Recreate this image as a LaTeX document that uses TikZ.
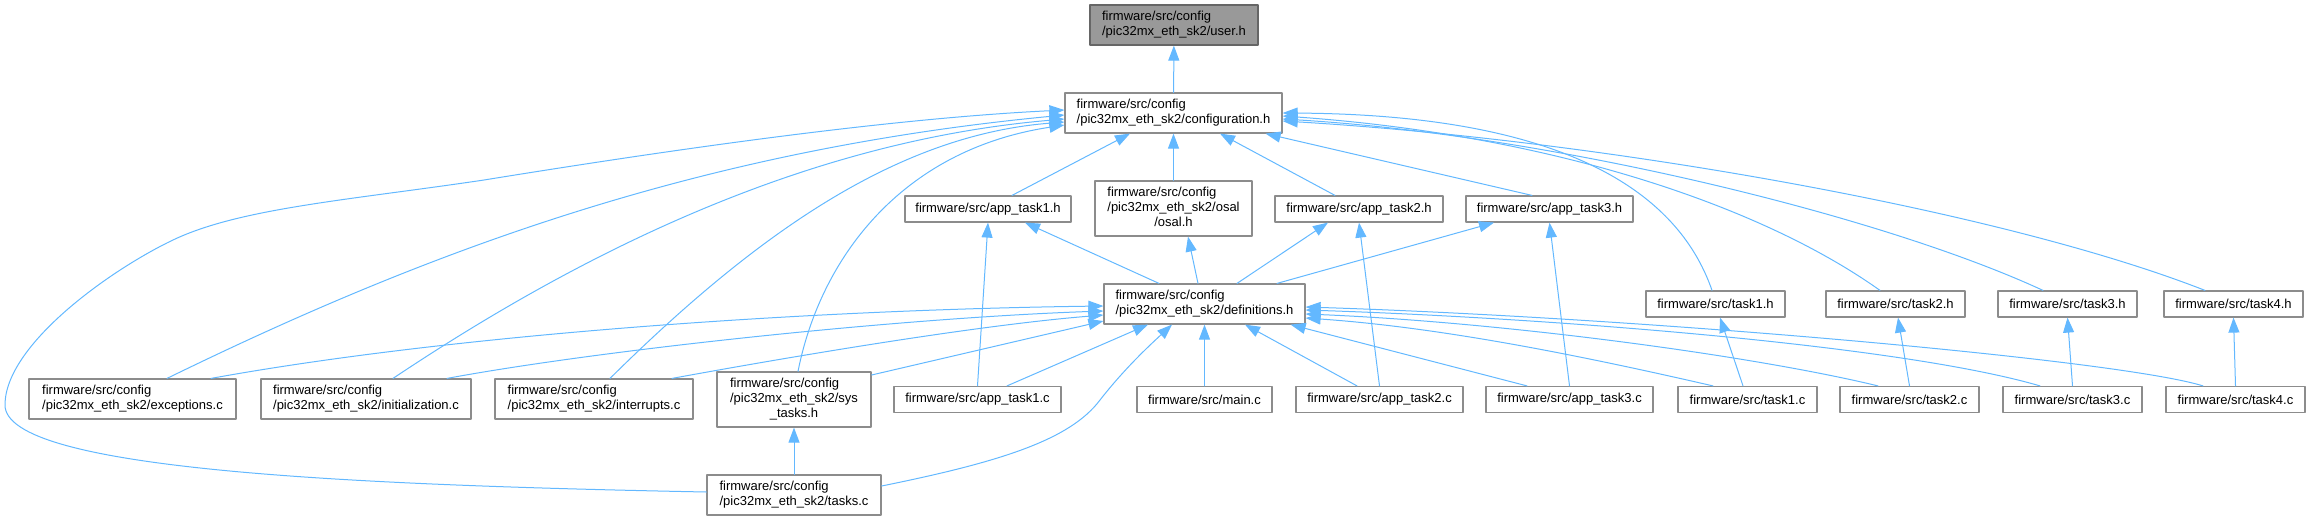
\documentclass[tikz,border=0pt]{standalone}
\usepackage{fontspec}
\setmainfont{Liberation Sans}
\usetikzlibrary{arrows.meta}
\definecolor{linkblue}{HTML}{63B8FF}
\definecolor{boxgray}{HTML}{8C8C8C}
\definecolor{rootgray}{HTML}{999999}
\definecolor{rootedge}{HTML}{666666}
\tikzset{
  file/.style={draw=boxgray,line width=1.2pt,fill=white,inner sep=0pt,align=left,font=\fontsize{13}{15}\selectfont},
  rootfile/.style={file,fill=rootgray,draw=rootedge},
  incl/.style={draw=linkblue,line width=1pt,-{Triangle[length=15pt,width=11pt]}},
}
\begin{document}
\begin{tikzpicture}[x=1pt,y=-1pt,line cap=round,line join=round]
  \useasboundingbox (0,0) rectangle (2310,520);
  \node[rootfile,minimum width=168,minimum height=40] (user) at (1174,25) {firmware/src/config\\/pic32mx\_eth\_sk2/user.h};
  \node[file,minimum width=217,minimum height=40] (config) at (1173.5,113) {firmware/src/config\\/pic32mx\_eth\_sk2/configuration.h};
  \node[file,minimum width=166,minimum height=26] (apph1) at (988,209) {firmware/src/app\_task1.h};
  \node[file,minimum width=157,minimum height=55] (osal) at (1173.5,208.5) {\begin{tabular}{@{}l@{}}firmware/src/config\\/pic32mx\_eth\_sk2/osal\\\multicolumn{1}{@{}c@{}}{/osal.h}\end{tabular}};
  \node[file,minimum width=168,minimum height=26] (apph2) at (1359,209) {firmware/src/app\_task2.h};
  \node[file,minimum width=167,minimum height=26] (apph3) at (1549.5,209) {firmware/src/app\_task3.h};
  \node[file,minimum width=201,minimum height=40] (defs) at (1204.5,304) {firmware/src/config\\/pic32mx\_eth\_sk2/definitions.h};
  \node[file,minimum width=139,minimum height=26] (t1h) at (1715.5,304) {firmware/src/task1.h};
  \node[file,minimum width=139,minimum height=26] (t2h) at (1895.5,304) {firmware/src/task2.h};
  \node[file,minimum width=139,minimum height=26] (t3h) at (2067.5,304) {firmware/src/task3.h};
  \node[file,minimum width=139,minimum height=26] (t4h) at (2233.5,304) {firmware/src/task4.h};
  \node[file,minimum width=207,minimum height=40] (exc) at (132.5,399) {firmware/src/config\\/pic32mx\_eth\_sk2/exceptions.c};
  \node[file,minimum width=210,minimum height=40] (init) at (366,399) {firmware/src/config\\/pic32mx\_eth\_sk2/initialization.c};
  \node[file,minimum width=198,minimum height=40] (intr) at (594,399) {firmware/src/config\\/pic32mx\_eth\_sk2/interrupts.c};
  \node[file,minimum width=154,minimum height=55] (systh) at (794,399.5) {\begin{tabular}{@{}l@{}}firmware/src/config\\/pic32mx\_eth\_sk2/sys\\\multicolumn{1}{@{}c@{}}{\_tasks.h}\end{tabular}};
  \node[file,minimum width=167,minimum height=26] (appc1) at (977.5,399.5) {firmware/src/app\_task1.c};
  \node[file,minimum width=135,minimum height=26] (mainc) at (1204.5,399.5) {firmware/src/main.c};
  \node[file,minimum width=167,minimum height=26] (appc2) at (1379.5,399.5) {firmware/src/app\_task2.c};
  \node[file,minimum width=167,minimum height=26] (appc3) at (1569.5,399.5) {firmware/src/app\_task3.c};
  \node[file,minimum width=139,minimum height=26] (t1c) at (1747.5,399.5) {firmware/src/task1.c};
  \node[file,minimum width=139,minimum height=26] (t2c) at (1909.5,399.5) {firmware/src/task2.c};
  \node[file,minimum width=139,minimum height=26] (t3c) at (2072.5,399.5) {firmware/src/task3.c};
  \node[file,minimum width=139,minimum height=26] (t4c) at (2235.5,399.5) {firmware/src/task4.c};
  \node[file,minimum width=174,minimum height=40] (tasksc) at (794,495) {firmware/src/config\\/pic32mx\_eth\_sk2/tasks.c};
  \draw[incl] (config) -- (user);
  \draw[incl] ([xshift=24]apph1.north) -- ([xshift=-43.5]config.south);
  \draw[incl] (osal) -- (config);
  \draw[incl] ([xshift=-24]apph2.north) -- ([xshift=46.5]config.south);
  \draw[incl] ([xshift=-17.5]apph3.north) -- ([xshift=-17]config.south east);
  \draw[incl] ([yshift=3]tasksc.west) .. controls (350,485) and (5,470) .. (5,405)
    .. controls (5,345) and (110,270) .. (173,240)
    .. controls (240,208) and (350,200) .. (484,180)
    .. controls (700,145) and (900,118) .. ([yshift=3]config.west);
  \draw[incl] ([xshift=34.5]exc.north) .. controls (430,250) and (700,150) .. ([yshift=-2]config.west);
  \draw[incl] ([xshift=27]init.north) .. controls (600,240) and (820,140) .. ([yshift=-6]config.west);
  \draw[incl] ([xshift=16]intr.north) .. controls (760,230) and (900,135) .. ([yshift=-9]config.west);
  \draw[incl] ([xshift=4]systh.north) .. controls (820,260) and (900,150) .. ([yshift=-12]config.west);
  \draw[incl] ([xshift=-3.5]t1h.north) .. controls (1660,140) and (1450,114) .. (config.east);
  \draw[incl] ([xshift=-15.5]t2h.north) .. controls (1760,205) and (1550,135) .. ([yshift=-3]config.east);
  \draw[incl] ([xshift=-24.5]t3h.north) .. controls (1880,215) and (1550,135) .. ([yshift=-6]config.east);
  \draw[incl] ([xshift=-28.5]t4h.north) .. controls (2000,210) and (1600,140) .. ([yshift=-8]config.east);
  \draw[incl] ([xshift=-45.5]defs.north) -- ([xshift=37]apph1.south);
  \draw[incl] ([xshift=-6.5]defs.north) -- ([xshift=14.5]osal.south);
  \draw[incl] ([xshift=32.5]defs.north) -- ([xshift=-31]apph2.south);
  \draw[incl] ([xshift=72.5]defs.north) -- ([xshift=-55.5]apph3.south);
  \draw[incl] (appc1.north) -- (apph1.south);
  \draw[incl] (appc2.north) -- (apph2.south);
  \draw[incl] (appc3.north) -- (apph3.south);
  \draw[incl] ([xshift=-4.5]t1c.north) -- ([xshift=4.5]t1h.south);
  \draw[incl] (t2c.north) -- ([xshift=2.5]t2h.south);
  \draw[incl] (t3c.north) -- (t3h.south);
  \draw[incl] (t4c.north) -- (t4h.south);
  \draw[incl] (tasksc) -- (systh);
  \draw[incl] (mainc) -- (defs);
  \draw[incl] ([xshift=29.5]appc1.north) -- ([xshift=-56.5]defs.south);
  \draw[incl] ([yshift=9]tasksc.east) .. controls (1000,462) and (1070,440) .. (1100,400)
    .. controls (1125,368) and (1150,345) .. ([xshift=-32.5]defs.south);
  \draw[incl] ([xshift=-22.5]appc2.north) -- ([xshift=40.5]defs.south);
  \draw[incl] ([xshift=-42.5]appc3.north) -- ([xshift=-15]defs.south east);
  \draw[incl] ([xshift=78.5]exc.north) .. controls (450,335) and (800,310) .. ([yshift=-2]defs.west);
  \draw[incl] ([xshift=81]init.north) .. controls (600,350) and (900,318) .. ([yshift=-7]defs.west);
  \draw[incl] ([xshift=78]intr.north) .. controls (800,355) and (980,325) .. ([yshift=-11]defs.west);
  \draw[incl] ([yshift=24.5]systh.east) -- ([yshift=-17]defs.west);
  \draw[incl] ([xshift=-34.5]t1c.north) .. controls (1600,360) and (1450,328) .. ([yshift=-14]defs.east);
  \draw[incl] ([xshift=-31.5]t2c.north) .. controls (1750,355) and (1500,322) .. ([yshift=-10]defs.east);
  \draw[incl] ([xshift=-32.5]t3c.north) .. controls (1900,345) and (1550,318) .. ([yshift=-6]defs.east);
  \draw[incl] ([xshift=-32.5]t4c.north) .. controls (2120,360) and (1650,318) .. ([yshift=-3]defs.east);
\end{tikzpicture}
\end{document}
